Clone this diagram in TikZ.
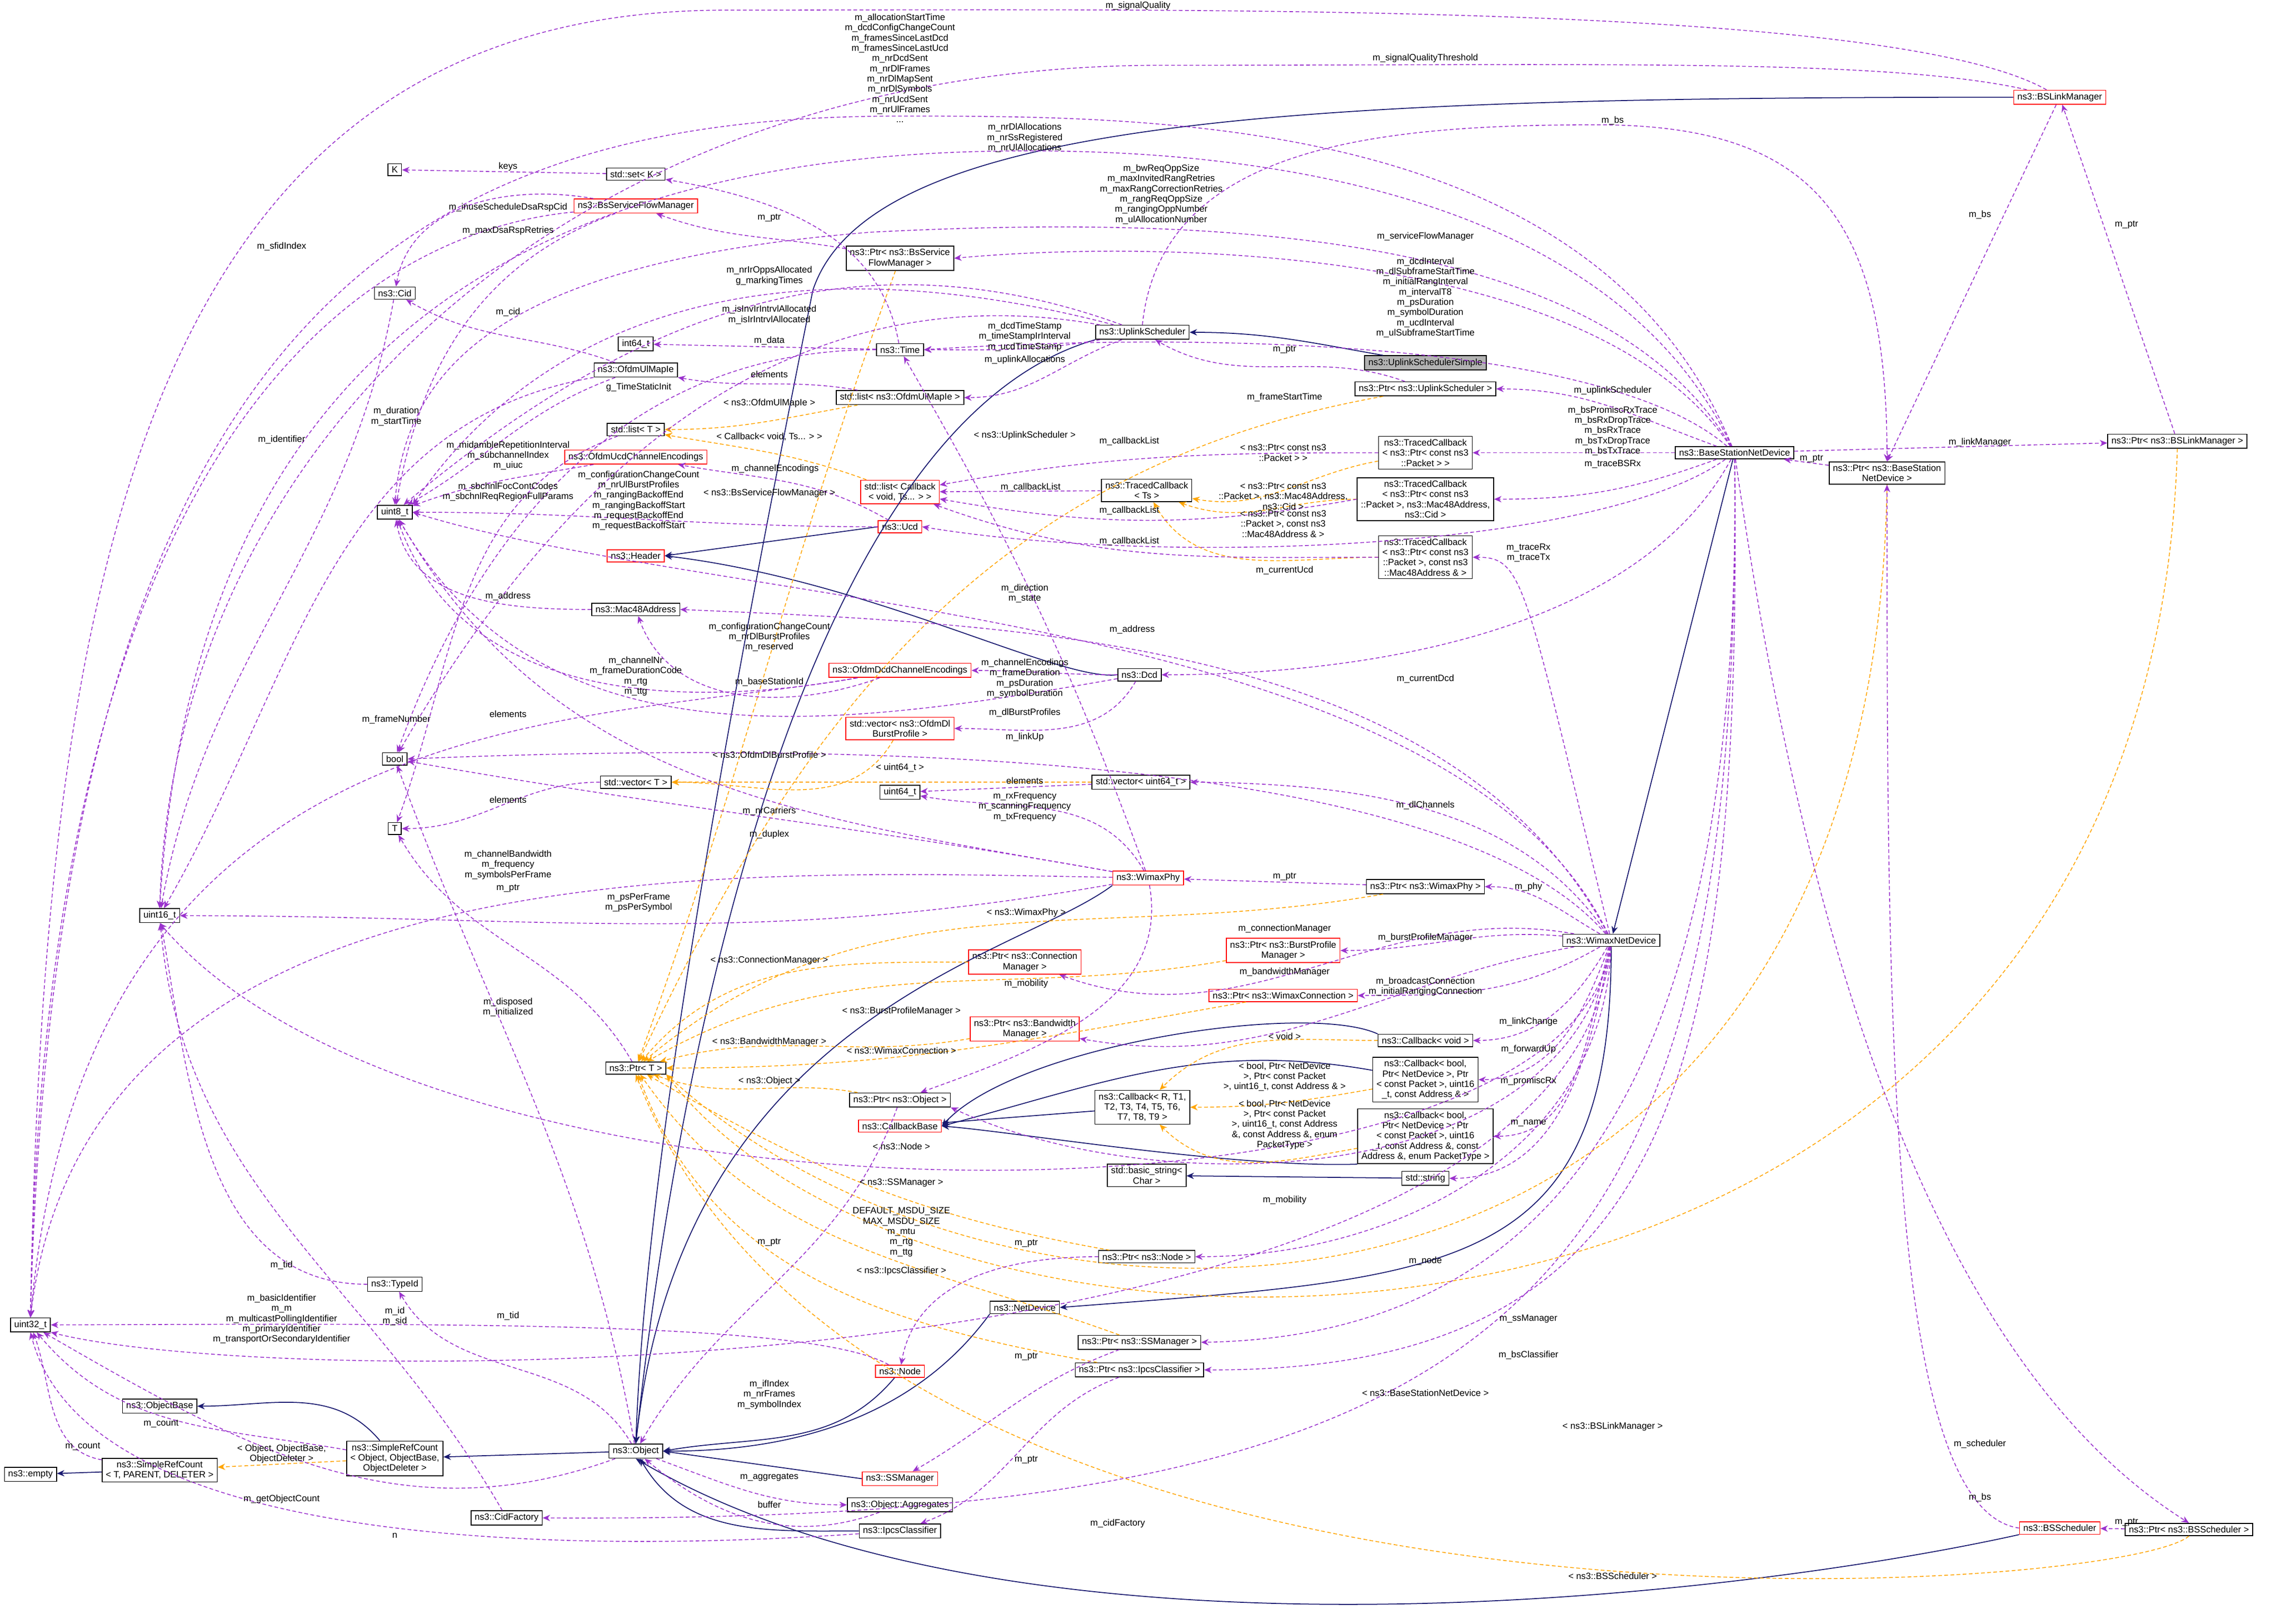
\documentclass[tikz,border=0pt]{standalone}
\usepackage{fontspec}
\newfontfamily\dx{Liberation Sans}
\usetikzlibrary{arrows.meta}
\definecolor{mp}{HTML}{9A32CD}
\definecolor{og}{HTML}{FFA500}
\definecolor{nv}{HTML}{191970}
\tikzset{
 x=0.027423cm,y=0.027423cm,
 fnt/.style={font=\dx\fontsize{4.9}{5.5}\selectfont},
 box/.style={fnt,draw=black,line width=0.45pt,fill=white,inner xsep=2pt,inner ysep=1.5pt,align=center},
 rbox/.style={box,draw=red},
 gbox/.style={box,fill=black!30},
 lbl/.style={fnt,inner sep=0.5pt,align=center},
 mem/.style={draw=mp,line width=0.45pt,dash pattern=on 2pt off 1.3pt,-{Stealth[length=4pt,width=3.4pt]}},
 tmpl/.style={draw=og,line width=0.45pt,dash pattern=on 2pt off 1.3pt,-{Stealth[length=4pt,width=3.4pt]}},
 inh/.style={draw=nv,line width=0.5pt,-{Stealth[length=4pt,width=3.4pt]}},
}
\begin{document}
\begin{tikzpicture}
\useasboundingbox[fill=white] (0,0) rectangle (1568,-1119);
% ---------- nodes ----------
\node[box] (K) at (272,-117) {K};
\node[box] (setk) at (438,-120) {std::set< K >};
\node[rbox] (bsfm) at (438,-142) {ns3::BsServiceFlowManager};
\node[box] (cid) at (272,-202) {ns3::Cid};
\node[box] (pbsfm) at (620,-178) {ns3::Ptr< ns3::BsService\\FlowManager >};
\node[box] (i64) at (438,-237) {int64\_t};
\node[box] (time) at (620,-241) {ns3::Time};
\node[box] (ulie) at (438,-255) {ns3::OfdmUlMapIe};
\node[box] (lul) at (620,-274) {std::list< ns3::OfdmUlMapIe >};
\node[box] (listT) at (438,-296) {std::list< T >};
\node[rbox] (ucdce) at (438,-315) {ns3::OfdmUcdChannelEncodings};
\node[box] (u8) at (272,-353) {uint8\_t};
\node[rbox] (lcb) at (620,-339) {std::list< Callback\\< void, Ts... > >};
\node[rbox] (ucd) at (620,-363) {ns3::Ucd};
\node[rbox] (header) at (438,-383) {ns3::Header};
\node[box] (mac) at (438,-420) {ns3::Mac48Address};
\node[rbox] (dcdce) at (620,-462) {ns3::OfdmDcdChannelEncodings};
\node[rbox] (vdl) at (620,-502) {std::vector< ns3::OfdmDl\\BurstProfile >};
\node[box] (bool) at (272,-523) {bool};
\node[box] (vecT) at (438,-539) {std::vector< T >};
\node[box] (u64) at (620,-546) {uint64\_t};
\node[rbox] (bslm) at (1419,-67) {ns3::BSLinkManager};
\node[box] (us) at (787,-229) {ns3::UplinkScheduler};
\node[gbox] (uss) at (982,-250) {ns3::UplinkSchedulerSimple};
\node[box] (pus) at (982,-268) {ns3::Ptr< ns3::UplinkScheduler >};
\node[box] (tc1) at (982,-312) {ns3::TracedCallback\\< ns3::Ptr< const ns3\\::Packet > >};
\node[box] (tcTs) at (790,-338) {ns3::TracedCallback\\< Ts >};
\node[box] (tc2) at (982,-344) {ns3::TracedCallback\\< ns3::Ptr< const ns3\\::Packet >, ns3::Mac48Address,\\ns3::Cid >};
\node[box] (tc3) at (982,-384) {ns3::TracedCallback\\< ns3::Ptr< const ns3\\::Packet >, const ns3\\::Mac48Address \& >};
\node[box] (dcd) at (785,-465) {ns3::Dcd};
\node[box] (bsnd) at (1195,-312) {ns3::BaseStationNetDevice};
\node[box] (pbsnd) at (1300,-326) {ns3::Ptr< ns3::BaseStation\\NetDevice >};
\node[box] (pbslm) at (1500,-304) {ns3::Ptr< ns3::BSLinkManager >};
\node[box] (vu64) at (786,-539) {std::vector< uint64\_t >};
\node[box] (T) at (272,-571) {T};
\node[box] (u16) at (110,-631) {uint16\_t};
\node[box] (pT) at (438,-736) {ns3::Ptr< T >};
\node[box] (pobj) at (620,-758) {ns3::Ptr< ns3::Object >};
\node[rbox] (cbb) at (620,-776) {ns3::CallbackBase};
\node[box] (typeid) at (272,-885) {ns3::TypeId};
\node[box] (u32) at (21,-913) {uint32\_t};
\node[box] (netdev) at (706,-901) {ns3::NetDevice};
\node[rbox] (node) at (620,-945) {ns3::Node};
\node[box] (objbase) at (110,-969) {ns3::ObjectBase};
\node[box] (src2) at (272,-1005) {ns3::SimpleRefCount\\< Object, ObjectBase,\\ObjectDeleter >};
\node[box] (src1) at (110,-1013) {ns3::SimpleRefCount\\< T, PARENT, DELETER >};
\node[box] (empty) at (21,-1016) {ns3::empty};
\node[box] (obj) at (438,-1000) {ns3::Object};
\node[rbox] (ssm) at (620,-1019) {ns3::SSManager};
\node[box] (agg) at (620,-1037) {ns3::Object::Aggregates};
\node[box] (cidf) at (349,-1046) {ns3::CidFactory};
\node[box] (ipcs) at (620,-1055) {ns3::IpcsClassifier};
\node[rbox] (pcm) at (706,-663) {ns3::Ptr< ns3::Connection\\Manager >};
\node[rbox] (pbwm) at (706,-709) {ns3::Ptr< ns3::Bandwidth\\Manager >};
\node[rbox] (wphy) at (791,-605) {ns3::WimaxPhy};
\node[box] (pwphy) at (982,-611) {ns3::Ptr< ns3::WimaxPhy >};
\node[box] (wnd) at (1110,-648) {ns3::WimaxNetDevice};
\node[rbox] (pbpm) at (884,-655) {ns3::Ptr< ns3::BurstProfile\\Manager >};
\node[rbox] (pwc) at (884,-686) {ns3::Ptr< ns3::WimaxConnection >};
\node[box] (cbvoid) at (982,-717) {ns3::Callback< void >};
\node[box] (cb4) at (982,-744) {ns3::Callback< bool,\\Ptr< NetDevice >, Ptr\\< const Packet >, uint16\\\_t, const Address \& >};
\node[box] (cbR) at (787,-763) {ns3::Callback< R, T1,\\T2, T3, T4, T5, T6,\\T7, T8, T9 >};
\node[box] (cb5) at (982,-783) {ns3::Callback< bool,\\Ptr< NetDevice >, Ptr\\< const Packet >, uint16\\\_t, const Address \&, const\\Address \&, enum PacketType >};
\node[box] (bstr) at (790,-810) {std::basic\_string<\\Char >};
\node[box] (stdstr) at (982,-812) {std::string};
\node[box] (pnode) at (790,-866) {ns3::Ptr< ns3::Node >};
\node[box] (pssm) at (785,-925) {ns3::Ptr< ns3::SSManager >};
\node[box] (pipcs) at (785,-944) {ns3::Ptr< ns3::IpcsClassifier >};
\node[rbox] (bss) at (1419,-1053) {ns3::BSScheduler};
\node[box] (pbss) at (1508,-1054) {ns3::Ptr< ns3::BSScheduler >};
% ---------- inheritance ----------
\draw[inh] (uss) to[out=170,in=0] (us);
\draw[inh] (us.south west) .. controls (560,-290) and (470,-700) .. (obj.north);
\draw[inh] (bslm.west) .. controls (900,-67) and (600,-80) .. (560,-200) .. controls (500,-500) and (445,-800) .. (obj.north);
\draw[inh] (bsnd) -- (wnd);
\draw[inh] (wnd.south) .. controls (1110,-880) and (1000,-880) .. (netdev.east);
\draw[inh] (netdev.south west) .. controls (620,-990) and (520,-1000) .. (obj.east);
\draw[inh] (wphy.south west) .. controls (700,-660) and (470,-700) .. (obj.north);
\draw[inh] (ucd.west) -- (header.east);
\draw[inh] (dcd.west) .. controls (730,-470) and (600,-400) .. (header.east);
\draw[inh] (node) to[out=230,in=10] (obj.east);
\draw[inh] (ssm.west) -- (obj.east);
\draw[inh] (ipcs.west) to[out=180,in=-60] (obj);
\draw[inh] (bss.south west) .. controls (1200,-1100) and (700,-1160) .. (obj.south);
\draw[inh] (obj) -- (src2);
\draw[inh] (src2) to[out=130,in=0] (objbase);
\draw[inh] (src1) -- (empty);
\draw[inh] (cbvoid.north west) .. controls (900,-690) and (700,-720) .. (cbb.east);
\draw[inh] (cb4) to[out=170,in=15] (cbb.east);
\draw[inh] (cbR) -- (cbb);
\draw[inh] (cb5.south west) .. controls (850,-805) and (700,-780) .. (cbb.east);
\draw[inh] (stdstr) -- (bstr);
% ---------- template instances ----------
\draw[tmpl] (src2) -- (src1);
\draw[tmpl] (pbsfm) to[out=-110,in=70] (pT);
\draw[tmpl] (lul) to[out=190,in=0] (listT);
\draw[tmpl] (lcb) to[out=160,in=-10] (listT);
\draw[tmpl] (pus) to[out=190,in=65] (pT);
\draw[tmpl] (tc1) to[out=190,in=-10] (tcTs);
\draw[tmpl] (tc2) to[out=180,in=-20] (tcTs);
\draw[tmpl] (tc3) to[out=180,in=-60] (tcTs);
\draw[tmpl] (vdl) to[out=-120,in=0] (vecT);
\draw[tmpl] (vu64) to[out=180,in=0] (vecT);
\draw[tmpl] (pwphy) to[out=190,in=40] (pT);
\draw[tmpl] (pcm) to[out=180,in=50] (pT);
\draw[tmpl] (pbpm) to[out=190,in=30] (pT);
\draw[tmpl] (pbwm) to[out=190,in=15] (pT);
\draw[tmpl] (pwc) to[out=190,in=0] (pT);
\draw[tmpl] (pobj) to[out=170,in=-20] (pT);
\draw[tmpl] (pnode) to[out=170,in=-30] (pT);
\draw[tmpl] (pssm) to[out=160,in=-55] (pT);
\draw[tmpl] (pipcs) to[out=170,in=-70] (pT);
\draw[tmpl] (pbsnd.south) .. controls (1290,-960) and (700,-960) .. (pT.south east);
\draw[tmpl] (pbslm.south) .. controls (1480,-990) and (650,-990) .. (pT.south east);
\draw[tmpl] (pbss.south) .. controls (1460,-1100) and (600,-1160) .. (pT.south);
\draw[tmpl] (cbvoid) to[out=180,in=45] (cbR);
\draw[tmpl] (cb4) to[out=190,in=0] (cbR);
\draw[tmpl] (cb5) to[out=190,in=-45] (cbR);
% ---------- members ----------
\draw[mem] (setk) -- (K);
\draw[mem] (bsfm) to[out=170,in=80] (cid);
\draw[mem] (bsfm) to[out=200,in=80] (u8);
\draw[mem] (bsfm) .. controls (250,-160) and (30,-300) .. (u32.north);
\draw[mem] (pbsfm) to[out=170,in=-20] (bsfm);
\draw[mem] (cid) to[out=-100,in=80] (u16);
\draw[mem] (ulie) to[out=160,in=-30] (cid);
\draw[mem] (ulie) to[out=190,in=60] (u16);
\draw[mem] (ulie) to[out=200,in=30] (u8);
\draw[mem] (time) -- (i64);
\draw[mem] (time) to[out=100,in=-10] (setk);
\draw[mem] (time) to[out=180,in=70] (bool);
\draw[mem] (lul) to[out=170,in=-10] (ulie);
\draw[mem] (us) to[out=190,in=0] (time);
\draw[mem] (us) to[out=200,in=0] (lul);
\draw[mem] (us) to[out=160,in=40] (u8);
\draw[mem] (us) to[out=170,in=60] (bool);
\draw[mem] (us.north) .. controls (800,-100) and (950,-86) .. (1100,-86) .. controls (1250,-86) and (1300,-150) .. (pbsnd.north);
\draw[mem] (pus) to[out=160,in=-30] (us);
\draw[mem] (ucdce) to[out=190,in=20] (u8);
\draw[mem] (ucd) to[out=180,in=0] (u8);
\draw[mem] (ucd) to[out=150,in=-10] (ucdce);
\draw[mem] (mac) to[out=180,in=-80] (u8);
\draw[mem] (dcd) to[out=190,in=-60] (u8);
\draw[mem] (dcdce) to[out=190,in=-70] (u8);
\draw[mem] (dcdce) to[out=200,in=-70] (mac);
\draw[mem] (dcdce) .. controls (400,-500) and (60,-480) .. (u32.north);
\draw[mem] (dcd) to[out=180,in=0] (dcdce);
\draw[mem] (dcd) to[out=-120,in=0] (vdl);
\draw[mem] (vecT) to[out=180,in=0] (T);
\draw[mem] (listT) to[out=200,in=70] (T);
\draw[mem] (vu64) -- (u64);
\draw[mem] (wphy) to[out=120,in=-10] (u64);
\draw[mem] (wphy) to[out=170,in=-60] (u8);
\draw[mem] (wphy) to[out=170,in=-10] (bool);
\draw[mem] (wphy) .. controls (500,-600) and (60,-580) .. (u32.north);
\draw[mem] (wphy) to[out=190,in=0] (u16);
\draw[mem] (wphy) to[out=110,in=-60] (time);
\draw[mem] (wphy) to[out=-80,in=20] (pobj);
\draw[mem] (pwphy) -- (wphy);
\draw[mem] (pT) to[out=120,in=-60] (T);
\draw[mem] (obj) to[out=100,in=-70] (bool);
\draw[mem] (obj) to[out=120,in=-60] (typeid);
\draw[mem] (typeid) to[out=180,in=-80] (u16);
\draw[mem] (obj) to[out=200,in=-30] (u32);
\draw[mem] (obj) to[out=-20,in=180] (agg);
\draw[mem] (agg) to[out=200,in=-40] (obj);
\draw[mem] (ipcs) .. controls (400,-1070) and (60,-1070) .. (u32.south);
\draw[mem] (src2) to[out=170,in=-50] (u32);
\draw[mem] (src1) to[out=170,in=-70] (u32);
\draw[mem] (cidf) to[out=120,in=-85] (u16);
\draw[mem] (node) .. controls (560,-910) and (300,-912) .. (u32.east);
\draw[mem] (pnode) to[out=180,in=80] (node);
\draw[mem] (pssm) to[out=200,in=30] (ssm);
\draw[mem] (pipcs) to[out=200,in=20] (ipcs);
\draw[mem] (pobj) to[out=-110,in=60] (obj);
% WimaxNetDevice members
\draw[mem] (wnd) to[out=150,in=0] (pwphy);
\draw[mem] (wnd) to[out=170,in=-20] (pcm);
\draw[mem] (wnd) to[out=175,in=0] (pbpm);
\draw[mem] (wnd) to[out=190,in=-10] (pbwm);
\draw[mem] (wnd) to[out=210,in=0] (pwc);
\draw[mem] (wnd) to[out=240,in=0] (cbvoid);
\draw[mem] (wnd) to[out=250,in=0] (cb4);
\draw[mem] (wnd) to[out=255,in=0] (cb5);
\draw[mem] (wnd) to[out=260,in=0] (stdstr);
\draw[mem] (wnd) .. controls (1080,-820) and (800,-830) .. (pobj.south east);
\draw[mem] (wnd) .. controls (1080,-860) and (300,-860) .. (u16.south);
\draw[mem] (wnd) to[out=268,in=0] (pnode);
\draw[mem] (wnd) .. controls (1000,-420) and (500,-420) .. (u8.east);
\draw[mem] (wnd) .. controls (1000,-440) and (700,-430) .. (mac.east);
\draw[mem] (wnd) .. controls (1000,-520) and (600,-510) .. (bool.east);
\draw[mem] (wnd) .. controls (1050,-560) and (950,-540) .. (vu64.east);
\draw[mem] (wnd) .. controls (1050,-400) and (1050,-384) .. (tc3.east);
\draw[mem] (wnd) .. controls (1080,-960) and (200,-960) .. (u32.south east);
% BaseStationNetDevice members
\draw[mem] (bslm) .. controls (1300,0) and (800,-7) .. (500,-7) .. controls (100,-7) and (30,-400) .. (u32.north);
\draw[mem] (bslm) .. controls (1300,-40) and (1100,-45) .. (800,-45) .. controls (400,-45) and (120,-300) .. (u16.north);
\draw[mem] (bsnd) .. controls (1100,-80) and (800,-80) .. (620,-80) .. controls (300,-80) and (40,-200) .. (u32.north);
\draw[mem] (bsnd) .. controls (1100,-110) and (800,-104) .. (706,-104) .. controls (300,-104) and (130,-300) .. (u16.north);
\draw[mem] (bsnd) .. controls (1100,-150) and (800,-150) .. (600,-160) .. controls (350,-180) and (280,-250) .. (u8.north);
\draw[mem] (bsnd) .. controls (1100,-170) and (800,-165) .. (pbsfm.east);
\draw[mem] (bsnd) .. controls (1100,-230) and (800,-230) .. (time.east);
\draw[mem] (bsnd) to[out=160,in=0] (pus);
\draw[mem] (bsnd) -- (tc1);
\draw[mem] (bsnd) to[out=200,in=0] (tc2);
\draw[mem] (bsnd) .. controls (1100,-380) and (800,-390) .. (ucd.east);
\draw[mem] (bsnd) .. controls (1120,-450) and (900,-465) .. (dcd.east);
\draw[mem] (bsnd) -- (pbslm);
\draw[mem] (pbsnd) -- (bsnd);
\draw[mem] (bslm) -- (pbsnd.north);
\draw[mem] (pbslm) -- (bslm);
\draw[mem] (bsnd) .. controls (1250,-700) and (1350,-950) .. (pbss.north);
\draw[mem] (bss.west) .. controls (1300,-1040) and (1300,-700) .. (pbsnd.south);
\draw[mem] (pbss) -- (bss);
\draw[mem] (bsnd) .. controls (1200,-700) and (1100,-920) .. (pssm.east);
\draw[mem] (bsnd) .. controls (1200,-750) and (1150,-945) .. (pipcs.east);
\draw[mem] (bsnd) .. controls (1200,-900) and (1050,-1050) .. (cidf.east);
\draw[mem] (us) .. controls (600,-180) and (400,-180) .. (u8.north east);
\draw[mem] (tc1) to[out=180,in=10] (lcb);
\draw[mem] (tcTs) -- (lcb);
\draw[mem] (tc2.west) to[out=190,in=-10] (lcb);
\draw[mem] (tc3.west) to[out=180,in=-20] (lcb);
% ---------- labels ----------
\node[lbl] (a1) at (784,-4) {m\_signalQuality};
\node[lbl] (a2) at (982,-40) {m\_signalQualityThreshold};
\node[lbl] (a3) at (620,-47) {m\_allocationStartTime\\m\_dcdConfigChangeCount\\m\_framesSinceLastDcd\\m\_framesSinceLastUcd\\m\_nrDcdSent\\m\_nrDlFrames\\m\_nrDlMapSent\\m\_nrDlSymbols\\m\_nrUcdSent\\m\_nrUlFrames\\...};
\node[lbl] (a4) at (706,-95) {m\_nrDlAllocations\\m\_nrSsRegistered\\m\_nrUlAllocations};
\node[lbl] (a5) at (800,-134) {m\_bwReqOppSize\\m\_maxInvitedRangRetries\\m\_maxRangCorrectionRetries\\m\_rangReqOppSize\\m\_rangingOppNumber\\m\_ulAllocationNumber};
\node[lbl] (a6) at (1111,-83) {m\_bs};
\node[lbl] (a7) at (1364,-148) {m\_bs};
\node[lbl] (a8) at (1465,-155) {m\_ptr};
\node[lbl] (a9) at (982,-163) {m\_serviceFlowManager};
\node[lbl] (a10) at (982,-205) {m\_dcdInterval\\m\_dlSubframeStartTime\\m\_initialRangInterval\\m\_intervalT8\\m\_psDuration\\m\_symbolDuration\\m\_ucdInterval\\m\_ulSubframeStartTime};
\node[lbl] (a11) at (885,-241) {m\_ptr};
\node[lbl] (a12) at (885,-274) {m\_frameStartTime};
\node[lbl] (a13) at (1111,-269) {m\_uplinkScheduler};
\node[lbl] (a14) at (1111,-297) {m\_bsPromiscRxTrace\\m\_bsRxDropTrace\\m\_bsRxTrace\\m\_bsTxDropTrace\\m\_bsTxTrace};
\node[lbl] (a15) at (1111,-320) {m\_traceBSRx};
\node[lbl] (a16) at (1364,-305) {m\_linkManager};
\node[lbl] (a17) at (1248,-316) {m\_ptr};
\node[lbl] (a18) at (884,-312) {< ns3::Ptr< const ns3\\::Packet > >};
\node[lbl] (a19) at (884,-342) {< ns3::Ptr< const ns3\\::Packet >, ns3::Mac48Address,\\ns3::Cid >};
\node[lbl] (a20) at (884,-361) {< ns3::Ptr< const ns3\\::Packet >, const ns3\\::Mac48Address \& >};
\node[lbl] (a21) at (350,-115) {keys};
\node[lbl] (a22) at (350,-143) {m\_inuseScheduleDsaRspCid};
\node[lbl] (a23) at (350,-159) {m\_maxDsaRspRetries};
\node[lbl] (a24) at (194,-170) {m\_sfidIndex};
\node[lbl] (a25) at (530,-150) {m\_ptr};
\node[lbl] (a26) at (530,-190) {m\_nrIrOppsAllocated\\g\_markingTimes};
\node[lbl] (a27) at (530,-217) {m\_isInvIrIntrvlAllocated\\m\_isIrIntrvlAllocated};
\node[lbl] (a28) at (350,-215) {m\_cid};
\node[lbl] (a29) at (530,-235) {m\_data};
\node[lbl] (a30) at (706,-232) {m\_dcdTimeStamp\\m\_timeStampIrInterval\\m\_ucdTimeStamp};
\node[lbl] (a31) at (706,-248) {m\_uplinkAllocations};
\node[lbl] (a32) at (530,-258) {elements};
\node[lbl] (a33) at (440,-267) {g\_TimeStaticInit};
\node[lbl] (a34) at (273,-287) {m\_duration\\m\_startTime};
\node[lbl] (a35) at (530,-278) {< ns3::OfdmUlMapIe >};
\node[lbl] (a36) at (530,-301) {< Callback< void, Ts... > >};
\node[lbl] (a37) at (706,-300) {< ns3::UplinkScheduler >};
\node[lbl] (a38) at (194,-303) {m\_identifier};
\node[lbl] (a39) at (350,-314) {m\_midambleRepetitionInterval\\m\_subchannelIndex\\m\_uiuc};
\node[lbl] (a40) at (534,-323) {m\_channelEncodings};
\node[lbl] (a41) at (778,-304) {m\_callbackList};
\node[lbl] (a42) at (710,-336) {m\_callbackList};
\node[lbl] (a43) at (778,-352) {m\_callbackList};
\node[lbl] (a44) at (778,-373) {m\_callbackList};
\node[lbl] (a45) at (530,-340) {< ns3::BsServiceFlowManager >};
\node[lbl] (a46) at (350,-339) {m\_sbchnlFocContCodes\\m\_sbchnlReqRegionFullParams};
\node[lbl] (a47) at (440,-345) {m\_configurationChangeCount\\m\_nrUlBurstProfiles\\m\_rangingBackoffEnd\\m\_rangingBackoffStart\\m\_requestBackoffEnd\\m\_requestBackoffStart};
\node[lbl] (a48) at (1053,-381) {m\_traceRx\\m\_traceTx};
\node[lbl] (a49) at (885,-393) {m\_currentUcd};
\node[lbl] (a50) at (706,-409) {m\_direction\\m\_state};
\node[lbl] (a51) at (350,-411) {m\_address};
\node[lbl] (a52) at (780,-434) {m\_address};
\node[lbl] (a53) at (530,-439) {m\_configurationChangeCount\\m\_nrDlBurstProfiles\\m\_reserved};
\node[lbl] (a54) at (438,-466) {m\_channelNr\\m\_frameDurationCode\\m\_rtg\\m\_ttg};
\node[lbl] (a55) at (530,-470) {m\_baseStationId};
\node[lbl] (a56) at (706,-457) {m\_channelEncodings};
\node[lbl] (a57) at (706,-471) {m\_frameDuration\\m\_psDuration\\m\_symbolDuration};
\node[lbl] (a58) at (982,-468) {m\_currentDcd};
\node[lbl] (a59) at (273,-496) {m\_frameNumber};
\node[lbl] (a60) at (350,-492) {elements};
\node[lbl] (a61) at (706,-491) {m\_dlBurstProfiles};
\node[lbl] (a62) at (706,-508) {m\_linkUp};
\node[lbl] (a63) at (530,-520) {< ns3::OfdmDlBurstProfile >};
\node[lbl] (a64) at (620,-529) {< uint64\_t >};
\node[lbl] (a65) at (706,-538) {elements};
\node[lbl] (a66) at (350,-551) {elements};
\node[lbl] (a67) at (706,-556) {m\_rxFrequency\\m\_scanningFrequency\\m\_txFrequency};
\node[lbl] (a68) at (982,-555) {m\_dlChannels};
\node[lbl] (a69) at (530,-559) {m\_nrCarriers};
\node[lbl] (a70) at (530,-575) {m\_duplex};
\node[lbl] (a71) at (350,-596) {m\_channelBandwidth\\m\_frequency\\m\_symbolsPerFrame};
\node[lbl] (a72) at (350,-612) {m\_ptr};
\node[lbl] (a73) at (440,-622) {m\_psPerFrame\\m\_psPerSymbol};
\node[lbl] (a74) at (707,-629) {< ns3::WimaxPhy >};
\node[lbl] (a75) at (885,-604) {m\_ptr};
\node[lbl] (a76) at (1053,-611) {m\_phy};
\node[lbl] (a77) at (885,-640) {m\_connectionManager};
\node[lbl] (a78) at (982,-646) {m\_burstProfileManager};
\node[lbl] (a79) at (530,-662) {< ns3::ConnectionManager >};
\node[lbl] (a80) at (707,-678) {m\_mobility};
\node[lbl] (a81) at (885,-670) {m\_bandwidthManager};
\node[lbl] (a82) at (982,-680) {m\_broadcastConnection\\m\_initialRangingConnection};
\node[lbl] (a83) at (350,-694) {m\_disposed\\m\_initialized};
\node[lbl] (a84) at (621,-697) {< ns3::BurstProfileManager >};
\node[lbl] (a85) at (1053,-704) {m\_linkChange};
\node[lbl] (a86) at (885,-714) {< void >};
\node[lbl] (a87) at (530,-718) {< ns3::BandwidthManager >};
\node[lbl] (a88) at (621,-724) {< ns3::WimaxConnection >};
\node[lbl] (a89) at (1053,-723) {m\_forwardUp};
\node[lbl] (a90) at (885,-742) {< bool, Ptr< NetDevice\\>, Ptr< const Packet\\>, uint16\_t, const Address \& >};
\node[lbl] (a91) at (530,-745) {< ns3::Object >};
\node[lbl] (a92) at (1053,-745) {m\_promiscRx};
\node[lbl] (a93) at (885,-775) {< bool, Ptr< NetDevice\\>, Ptr< const Packet\\>, uint16\_t, const Address\\\&, const Address \&, enum\\PacketType >};
\node[lbl] (a94) at (1053,-774) {m\_name};
\node[lbl] (a95) at (621,-790) {< ns3::Node >};
\node[lbl] (a96) at (621,-815) {< ns3::SSManager >};
\node[lbl] (a97) at (885,-827) {m\_mobility};
\node[lbl] (a98) at (621,-849) {DEFAULT\_MSDU\_SIZE\\MAX\_MSDU\_SIZE\\m\_mtu\\m\_rtg\\m\_ttg};
\node[lbl] (a99) at (530,-856) {m\_ptr};
\node[lbl] (a100) at (707,-857) {m\_ptr};
\node[lbl] (a101) at (982,-869) {m\_node};
\node[lbl] (a102) at (194,-872) {m\_tid};
\node[lbl] (a103) at (621,-876) {< ns3::IpcsClassifier >};
\node[lbl] (a104) at (194,-909) {m\_basicIdentifier\\m\_m\\m\_multicastPollingIdentifier\\m\_primaryIdentifier\\m\_transportOrSecondaryIdentifier};
\node[lbl] (a105) at (272,-907) {m\_id\\m\_sid};
\node[lbl] (a106) at (350,-907) {m\_tid};
\node[lbl] (a107) at (1053,-909) {m\_ssManager};
\node[lbl] (a108) at (1053,-934) {m\_bsClassifier};
\node[lbl] (a109) at (707,-935) {m\_ptr};
\node[lbl] (a110) at (982,-960) {< ns3::BaseStationNetDevice >};
\node[lbl] (a111) at (530,-961) {m\_ifIndex\\m\_nrFrames\\m\_symbolIndex};
\node[lbl] (a112) at (111,-981) {m\_count};
\node[lbl] (a113) at (1111,-983) {< ns3::BSLinkManager >};
\node[lbl] (a114) at (1364,-995) {m\_scheduler};
\node[lbl] (a115) at (57,-997) {m\_count};
\node[lbl] (a116) at (194,-1002) {< Object, ObjectBase,\\ObjectDeleter >};
\node[lbl] (a117) at (707,-1006) {m\_ptr};
\node[lbl] (a118) at (530,-1018) {m\_aggregates};
\node[lbl] (a119) at (1364,-1032) {m\_bs};
\node[lbl] (a120) at (194,-1033) {m\_getObjectCount};
\node[lbl] (a121) at (530,-1037) {buffer};
\node[lbl] (a122) at (1465,-1049) {m\_ptr};
\node[lbl] (a123) at (770,-1050) {m\_cidFactory};
\node[lbl] (a124) at (272,-1058) {n};
\node[lbl] (a125) at (1111,-1086) {< ns3::BSScheduler >};
\end{tikzpicture}
\end{document}
